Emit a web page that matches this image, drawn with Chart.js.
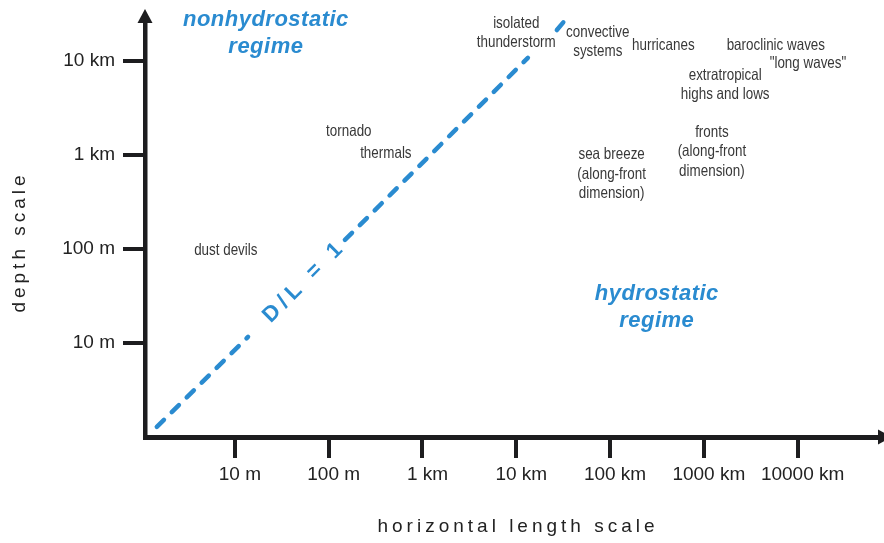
<!DOCTYPE html>
<html lang="en">
<head>
  <meta charset="UTF-8">
  <title>Atmospheric scales: depth vs horizontal length</title>
  <script src="https://cdn.jsdelivr.net/npm/chart.js"></script>
  <style>
    body {
      margin: 0;
      background-color: #ffffff;
    }

    .chart-box {
      position: relative;
      width: 884px;
      height: 543px;
    }
  </style>
</head>
<body>
<div class="chart-box">
  <canvas id="scaleChart"></canvas>
</div>

<script>
    // axis ticks (metres)
    const xTickValues = [10, 100, 1000, 1e4, 1e5, 1e6, 1e7];
    const xTickLabels = ['10 m', '100 m', '1 km', '10 km', '100 km', '1000 km', '10000 km'];
    const yTickValues = [10, 100, 1000, 1e4];
    const yTickLabels = ['10 m', '100 m', '1 km', '10 km'];

    // the D/L = 1 line, broken where the labels sit (null = gap)
    const dlLength = [1.47, 13.8, null, 149, 13300, null, 27100, 34600];
    const dlDepth = [1.28, 11.6, null, 125, 10800, null, 21400, 28600];

    // phenomena: label lines and where they sit (length, depth in metres)
    const labelText = [
        ['isolated', 'thunderstorm'],
        ['convective', 'systems'],
        ['hurricanes'],
        ['baroclinic waves'],
        ['"long waves"'],
        ['extratropical', 'highs and lows'],
        ['fronts', '(along-front', 'dimension)'],
        ['sea breeze', '(along-front', 'dimension)'],
        ['tornado'],
        ['thermals'],
        ['dust devils']
    ];
    const labelLength = [1.0e4, 7.4e4, 3.7e5, 5.86e6, 1.29e7, 1.69e6, 1.22e6, 1.04e5, 164, 407, 8.0];
    const labelDepth = [2.0e4, 1.6e4, 1.45e4, 1.45e4, 9.5e3, 5.6e3, 1.09e3, 628, 1.8e3, 1.03e3, 97.6];

    const regimeText = [['nonhydrostatic', 'regime'], ['hydrostatic', 'regime']];
    const regimeLength = [21.4, 3.15e5];
    const regimeDepth = [1.99e4, 24.2];

    const dlText = 'D/L = 1';
    const dlTextLength = 53;
    const dlTextDepth = 43.5;

    const axisColor = '#1d1d1f';
    const textColor = '#383838';
    const blue = '#2a8bd0';
    const sans = '"Liberation Sans", Arial, Helvetica, sans-serif';

    const overlay = {
        id: 'overlay',
        afterDraw(chart) {
            const ctx = chart.ctx;
            const a = chart.chartArea;
            const x = chart.scales.x;
            const y = chart.scales.y;
            ctx.save();

            // arrow heads
            ctx.fillStyle = axisColor;
            ctx.beginPath();
            ctx.moveTo(a.left, a.top - 14);
            ctx.lineTo(a.left - 7.5, a.top);
            ctx.lineTo(a.left + 7.5, a.top);
            ctx.closePath();
            ctx.fill();
            ctx.beginPath();
            ctx.moveTo(a.right + 14, a.bottom);
            ctx.lineTo(a.right, a.bottom - 7.5);
            ctx.lineTo(a.right, a.bottom + 7.5);
            ctx.closePath();
            ctx.fill();

            // axis titles
            ctx.fillStyle = '#222222';
            ctx.font = '19px ' + sans;
            ctx.letterSpacing = '4px';
            ctx.textAlign = 'center';
            ctx.textBaseline = 'middle';
            ctx.fillText('horizontal length scale', 518, 527);
            ctx.save();
            ctx.translate(20, 244);
            ctx.rotate(-Math.PI / 2);
            ctx.fillText('depth scale', 2, 0);
            ctx.restore();
            ctx.letterSpacing = '0px';

            // phenomena, in a narrowed face (squeeze so "thunderstorm" is ~79px)
            ctx.fillStyle = textColor;
            ctx.font = '16.5px ' + sans;
            const squeeze = 79 / ctx.measureText('thunderstorm').width;
            labelText.forEach((lines, i) => {
                const px = x.getPixelForValue(labelLength[i]);
                const py = y.getPixelForValue(labelDepth[i]);
                const top = py - (lines.length - 1) * 19.5 / 2;
                lines.forEach((t, j) => {
                    ctx.save();
                    ctx.translate(px, top + j * 19.5);
                    ctx.scale(squeeze, 1);
                    ctx.fillText(t, 0, 0);
                    ctx.restore();
                });
            });

            // regimes
            ctx.fillStyle = blue;
            ctx.font = 'italic bold 22px ' + sans;
            ctx.letterSpacing = '0.5px';
            regimeText.forEach((lines, i) => {
                const px = x.getPixelForValue(regimeLength[i]);
                const py = y.getPixelForValue(regimeDepth[i]);
                const top = py - (lines.length - 1) * 27 / 2;
                lines.forEach((t, j) => ctx.fillText(t, px, top + j * 27));
            });

            // D/L = 1 along the line
            ctx.font = 'bold 22px ' + sans;
            ctx.letterSpacing = '5px';
            ctx.translate(x.getPixelForValue(dlTextLength), y.getPixelForValue(dlTextDepth));
            ctx.rotate(-Math.PI / 4);
            ctx.fillText(dlText, 2.5, 0);
            ctx.restore();
        }
    };

    const data = {
        datasets: [{
            label: 'D/L = 1',
            data: dlLength.map((l, i) => ({x: l, y: dlDepth[i]})),
            borderColor: blue,
            borderWidth: 4.5,
            borderDash: [10, 11],
            borderCapStyle: 'round',
            pointRadius: 0,
            spanGaps: false,
            clip: false
        }]
    };

    const options = {
        responsive: true,
        maintainAspectRatio: false,
        animation: false,
        layout: {
            padding: {top: 23, right: 6, left: 0, bottom: 0}
        },
        plugins: {
            legend: {display: false},
            tooltip: {enabled: false}
        },
        scales: {
            x: {
                type: 'logarithmic',
                min: 1.1,
                max: 7.2e7,
                afterBuildTicks: (scale) => {
                    scale.ticks = xTickValues.map(v => ({value: v}));
                },
                afterFit: (scale) => {
                    scale.height = 106;
                },
                grid: {
                    drawOnChartArea: false,
                    drawTicks: true,
                    tickLength: 21,
                    tickWidth: 4,
                    lineWidth: 4,
                    color: axisColor
                },
                border: {display: true, width: 5, color: axisColor},
                ticks: {
                    autoSkip: false,
                    maxRotation: 0,
                    padding: 5,
                    labelOffset: 5,
                    color: '#222222',
                    font: {family: sans, size: 19},
                    callback: (value) => xTickLabels[xTickValues.indexOf(value)]
                }
            },
            y: {
                type: 'logarithmic',
                min: 1,
                max: 25400,
                afterBuildTicks: (scale) => {
                    scale.ticks = yTickValues.map(v => ({value: v}));
                },
                afterFit: (scale) => {
                    scale.width = 145;
                },
                grid: {
                    drawOnChartArea: false,
                    drawTicks: true,
                    tickLength: 22,
                    tickWidth: 4,
                    lineWidth: 4,
                    color: axisColor
                },
                border: {display: true, width: 4.5, color: axisColor},
                ticks: {
                    autoSkip: false,
                    padding: 8,
                    color: '#222222',
                    font: {family: sans, size: 19},
                    callback: (value) => yTickLabels[yTickValues.indexOf(value)]
                }
            }
        }
    };

    const scaleChart = new Chart(document.getElementById('scaleChart'), {
        type: 'line',
        data: data,
        options: options,
        plugins: [overlay]
    });
</script>
</body>
</html>
